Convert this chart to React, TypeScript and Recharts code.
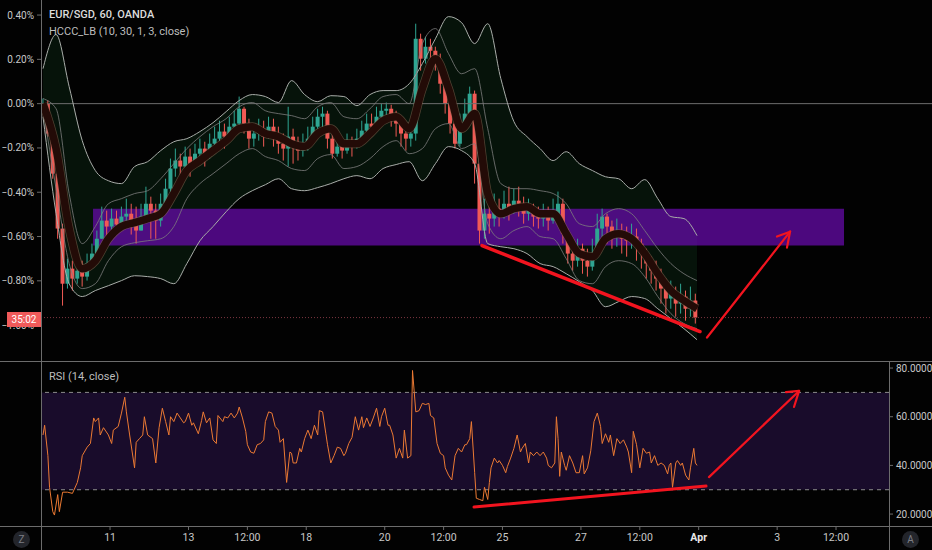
import React from 'react';
import {
  ComposedChart, Bar, Line, Area, XAxis, YAxis, ReferenceLine, ReferenceArea,
} from 'recharts';

// hours are counted in trading hours from the first bar (weekends skipped)
const CANDLE_STEP = 3;
const BAND_STEP = 8;
const FIRST_OPEN = -0.014;

const candleClose = [
  0.000, -0.135, -0.316, -0.564, -0.813, -0.745, -0.790, -0.754, -0.781, -0.722,
  -0.677, -0.610, -0.528, -0.555, -0.519, -0.546, -0.510, -0.497, -0.528, -0.573,
  -0.510, -0.452, -0.483, -0.528, -0.452, -0.384, -0.293, -0.257, -0.284, -0.239,
  -0.271, -0.226, -0.203, -0.239, -0.181, -0.158, -0.126, -0.149, -0.104, -0.090,
  -0.023, -0.090, -0.158, -0.135, -0.113, -0.149, -0.104, -0.135, -0.181, -0.203,
  -0.149, -0.181, -0.212, -0.181, -0.158, -0.104, -0.059, -0.045, -0.158, -0.226,
  -0.194, -0.212, -0.181, -0.194, -0.158, -0.122, -0.090, -0.104, -0.059, -0.032,
  -0.023, -0.068, -0.090, -0.135, -0.158, -0.135, 0.293, 0.203, 0.257, 0.239,
  0.194, 0.090, 0.000, -0.090, -0.181, -0.090, -0.045, 0.045, -0.271, -0.573,
  -0.497, -0.519, -0.474, -0.497, -0.452, -0.474, -0.438, -0.452, -0.497, -0.483,
  -0.510, -0.519, -0.497, -0.528, -0.497, -0.452, -0.587, -0.677, -0.709, -0.655,
  -0.709, -0.736, -0.677, -0.564, -0.510, -0.555, -0.600, -0.573, -0.610, -0.619,
  -0.600, -0.632, -0.677, -0.722, -0.754, -0.790, -0.835, -0.880, -0.858, -0.903,
  -0.871, -0.926, -0.889, -0.966,
];

const candleHigh = [
  0.023, 0.014, -0.113, -0.293, -0.542, -0.700, -0.709, -0.722, -0.709, -0.677,
  -0.632, -0.573, -0.465, -0.483, -0.474, -0.483, -0.465, -0.429, -0.452, -0.465,
  -0.452, -0.375, -0.420, -0.452, -0.406, -0.339, -0.248, -0.203, -0.226, -0.194,
  -0.203, -0.181, -0.158, -0.172, -0.135, -0.104, -0.077, -0.090, -0.059, -0.032,
  0.032, -0.014, -0.068, -0.090, -0.068, -0.077, -0.059, -0.068, -0.104, -0.135,
  -0.014, -0.113, -0.149, -0.135, -0.104, -0.059, -0.023, -0.014, -0.032, -0.135,
  -0.158, -0.158, -0.135, -0.149, -0.113, -0.077, -0.045, -0.045, -0.014, 0.000,
  0.005, -0.005, -0.032, -0.059, -0.090, -0.090, 0.361, 0.316, 0.302, 0.293,
  0.257, 0.226, 0.113, 0.023, -0.068, -0.045, 0.023, 0.077, 0.059, -0.248,
  -0.429, -0.452, -0.406, -0.429, -0.393, -0.375, -0.384, -0.375, -0.420, -0.429,
  -0.452, -0.465, -0.452, -0.465, -0.429, -0.397, -0.429, -0.564, -0.632, -0.610,
  -0.632, -0.655, -0.610, -0.497, -0.474, -0.497, -0.528, -0.519, -0.542, -0.555,
  -0.542, -0.564, -0.610, -0.655, -0.691, -0.709, -0.745, -0.790, -0.799, -0.826,
  -0.813, -0.844, -0.826, -0.858,
];

const candleLow = [
  -0.032, -0.149, -0.339, -0.610, -0.912, -0.835, -0.844, -0.813, -0.826, -0.799,
  -0.736, -0.691, -0.610, -0.600, -0.573, -0.587, -0.564, -0.555, -0.591, -0.632,
  -0.564, -0.528, -0.610, -0.610, -0.555, -0.452, -0.406, -0.330, -0.339, -0.316,
  -0.330, -0.284, -0.271, -0.284, -0.248, -0.212, -0.194, -0.203, -0.158, -0.149,
  -0.104, -0.135, -0.203, -0.194, -0.167, -0.194, -0.158, -0.194, -0.226, -0.257,
  -0.284, -0.271, -0.257, -0.239, -0.212, -0.158, -0.113, -0.113, -0.203, -0.248,
  -0.239, -0.248, -0.226, -0.239, -0.203, -0.181, -0.149, -0.149, -0.113, -0.090,
  -0.068, -0.104, -0.149, -0.194, -0.212, -0.194, -0.167, 0.149, 0.181, 0.194,
  0.149, 0.045, -0.045, -0.135, -0.203, -0.194, -0.090, -0.059, -0.361, -0.632,
  -0.610, -0.587, -0.555, -0.555, -0.519, -0.528, -0.497, -0.510, -0.542, -0.528,
  -0.555, -0.564, -0.555, -0.573, -0.542, -0.510, -0.632, -0.722, -0.754, -0.736,
  -0.768, -0.781, -0.754, -0.691, -0.610, -0.632, -0.655, -0.646, -0.677, -0.691,
  -0.655, -0.709, -0.745, -0.790, -0.813, -0.844, -0.903, -0.948, -0.926, -0.962,
  -0.948, -0.980, -0.962, -0.993,
];

// HCCC_LB bands, one value every BAND_STEP hours
const outerUpper = [
  0.158, 0.312, 0.077, -0.167, -0.302, -0.348, -0.361, -0.284, -0.262, -0.212,
  -0.172, -0.158, -0.126, -0.086, -0.036, 0.014, 0.041, 0.032, 0.005, 0.104,
  0.041, 0.009, 0.036, 0.032, -0.009, 0.041, 0.059, 0.059, 0.090, 0.181,
  0.293, 0.393, 0.366, 0.271, 0.361, 0.113, -0.081, -0.149, -0.203, -0.257,
  -0.217, -0.271, -0.302, -0.330, -0.339, -0.384, -0.343, -0.429, -0.510, -0.519,
  -0.596,
];
const outerLower = [
  -0.059, -0.497, -0.813, -0.871, -0.844, -0.822, -0.799, -0.777, -0.781, -0.790,
  -0.813, -0.722, -0.619, -0.555, -0.488, -0.429, -0.393, -0.366, -0.339, -0.384,
  -0.393, -0.379, -0.361, -0.339, -0.325, -0.339, -0.293, -0.275, -0.262, -0.348,
  -0.271, -0.194, -0.212, -0.271, -0.632, -0.646, -0.655, -0.677, -0.722, -0.736,
  -0.768, -0.804, -0.844, -0.917, -0.894, -0.871, -0.880, -0.926, -0.971, -1.016,
  -1.066,
];
const innerUpper = [
  0.023, -0.023, -0.406, -0.632, -0.555, -0.452, -0.429, -0.406, -0.393, -0.339,
  -0.271, -0.203, -0.149, -0.104, -0.068, -0.014, 0.005, -0.032, -0.045, -0.054,
  -0.068, -0.014, 0.005, -0.059, -0.068, -0.023, 0.032, 0.041, 0.000, 0.271,
  0.339, 0.226, 0.135, 0.158, -0.113, -0.361, -0.384, -0.384, -0.393, -0.406,
  -0.452, -0.542, -0.555, -0.497, -0.474, -0.497, -0.573, -0.655, -0.722, -0.768,
  -0.799,
];
const innerLower = [
  -0.023, -0.384, -0.722, -0.835, -0.813, -0.709, -0.646, -0.628, -0.619, -0.610,
  -0.555, -0.429, -0.361, -0.316, -0.271, -0.226, -0.203, -0.239, -0.257, -0.293,
  -0.302, -0.248, -0.230, -0.293, -0.284, -0.248, -0.194, -0.167, -0.226, -0.203,
  -0.113, -0.090, -0.203, -0.181, -0.542, -0.610, -0.573, -0.555, -0.600, -0.610,
  -0.700, -0.799, -0.813, -0.736, -0.709, -0.722, -0.781, -0.871, -0.948, -0.993,
  -1.016,
];
const channelMid = [
  0.000, -0.203, -0.564, -0.745, -0.709, -0.610, -0.555, -0.537, -0.519, -0.497,
  -0.406, -0.302, -0.257, -0.212, -0.167, -0.113, -0.104, -0.135, -0.149, -0.181,
  -0.194, -0.135, -0.113, -0.181, -0.181, -0.135, -0.077, -0.059, -0.113, 0.068,
  0.203, 0.068, -0.113, -0.045, -0.406, -0.497, -0.474, -0.465, -0.497, -0.497,
  -0.587, -0.677, -0.691, -0.610, -0.587, -0.610, -0.677, -0.768, -0.844, -0.889,
  -0.926,
];

const rsiHours = [
  0, 1, 3, 4, 6, 7, 9, 10, 12, 15,
  18, 21, 23, 24, 27, 29, 31, 32, 34, 35,
  37, 40, 42, 43, 46, 48, 50, 51, 53, 56,
  57, 59, 61, 62, 64, 67, 69, 71, 73, 75,
  77, 78, 80, 82, 84, 86, 87, 89, 91, 92,
  95, 97, 98, 100, 102, 104, 106, 107, 110, 111,
  113, 115, 117, 119, 120, 122, 124, 125, 127, 129,
  131, 133, 135, 136, 138, 140, 142, 144, 145, 147,
  149, 151, 152, 153, 155, 157, 158, 160, 162, 164,
  166, 168, 169, 171, 173, 174, 176, 178, 180, 182,
  184, 185, 187, 189, 191, 193, 195, 196, 198, 200,
  202, 204, 206, 207, 209, 211, 212, 214, 216, 218,
  220, 221, 223, 225, 226, 228, 230, 232, 234, 236,
  237, 239, 241, 243, 245, 246, 248, 250, 252, 254,
  256, 258, 259, 261, 262, 264, 265, 267, 269, 270,
  272, 273, 274, 276, 278, 279, 281, 283, 284, 286,
  288, 290, 292, 293, 295, 297, 298, 300, 302, 304,
  306, 308, 309, 311, 313, 314, 315, 316, 317, 319,
  320, 322, 324, 326, 328, 330, 331, 333, 335, 337,
  339, 341, 342, 344, 346, 347, 349, 351, 353, 355,
  357, 358, 360, 361, 363, 365, 367, 369, 371, 372,
  374, 376, 378, 380, 382, 383, 384, 385, 387, 388,
  390, 391, 393, 395, 396, 398, 399, 400,
];
const rsiValues = [
  52.5, 56.5, 44, 31, 21, 19.6, 28, 21, 29, 29,
  28.5, 33, 39, 44, 47.5, 49, 59.5, 58, 59.5, 52.5,
  55.5, 52.5, 49, 54.5, 56, 61.5, 68, 62, 52.5, 39,
  49.5, 51, 52.5, 60, 52.5, 51, 41, 55.5, 63.5, 58,
  52.5, 60, 58, 61.5, 59.5, 57.5, 58, 61.5, 56.5, 57.5,
  53, 58.5, 62, 57.5, 59.5, 50.5, 49, 60.5, 58, 60,
  59.5, 61.5, 59.5, 61.5, 64, 59.5, 54, 48.5, 45.5, 45,
  48.5, 49, 50.5, 58, 62, 61.5, 56, 54.5, 49.5, 51,
  33, 45.5, 45, 41, 41, 47, 45.5, 51, 54.5, 51,
  56.5, 52.5, 62.5, 62, 53, 48.5, 41, 44, 47.5, 47,
  44, 45, 49, 51.5, 60, 54.5, 60, 55.5, 59.5, 56,
  59.5, 63.5, 56, 60, 63.5, 56.5, 56.5, 52.5, 43, 47,
  43, 54.5, 43, 44, 79, 62, 62.5, 65.5, 65, 65.5,
  60.5, 59.5, 49, 45, 44, 39, 36, 34, 44, 47,
  45.5, 48.5, 48.5, 51, 58, 37, 26.5, 26, 25.5, 31,
  26, 33, 39, 43, 41, 42, 40, 37, 39.5, 43,
  47, 52.5, 45.5, 47, 49, 41, 45.5, 44, 45.5, 44,
  45.5, 43, 40, 39, 41, 60, 51, 35.5, 45.5, 40,
  38, 44, 41, 37, 37, 44, 36.5, 39, 46, 58,
  61.5, 56, 49, 53, 49.5, 52.5, 44, 51, 49, 50.5,
  47.5, 45.5, 37, 54, 48.5, 39, 47, 45, 45.5, 41,
  44, 40, 41, 40, 36.5, 40, 41, 31, 41, 42,
  40, 41, 36, 34, 39, 47, 41, 40,
];

const priceTicks = [0.4, 0.2, 0, -0.2, -0.4, -0.6, -0.8, -1.0];
const rsiTicks = [20, 40, 60, 80];
const tickHours = [41, 89, 125, 161, 209, 245, 281, 329, 365, 401, 449, 485];
const tickLabels = ['11', '13', '12:00', '18', '20', '12:00', '25', '27', '12:00', 'Apr', '3', '12:00'];

const LAST_PRICE = -0.966;
// drawn zone and hand-drawn trend lines / arrows, in (hour, value)
const ZONE = { x1: 30.6, x2: 489.9, y1: -0.641, y2: -0.474 };
const priceMarks = [
  [[268.5, -0.641], [401.8, -1.029]],
  [[406.1, -1.056], [456.9, -0.578]],
  [[456.9, -0.578], [448.9, -0.600]],
  [[456.9, -0.578], [455.0, -0.650]],
];
const rsiMarks = [
  [[263.6, 22.9], [405.5, 31.5]],
  [[407.3, 35.2], [462.4, 70.6]],
  [[462.4, 70.6], [454.4, 70.1]],
  [[462.4, 70.6], [459.3, 64.0]],
];

const X_MIN = -1.22;
const TOP_X_MAX = 543.7;
const RSI_X_MAX = 517.4;

const UP = '#2fa592';
const DOWN = '#f05a55';
const MARK = '#f2141f';
const TEXT = '#c8c8c8';
const GRID = '#6c6c6c';
const FONT = 'Roboto, "Noto Sans", sans-serif';

const candleRows = candleClose.map((c, i) => {
  const o = i === 0 ? FIRST_OPEN : candleClose[i - 1];
  return {
    t: i * CANDLE_STEP,
    open: o,
    close: c,
    high: Math.max(candleHigh[i], o, c),
    low: Math.min(candleLow[i], o, c),
  };
});

const bandRows = outerUpper.map((v, k) => ({
  t: k * BAND_STEP,
  up: v,
  lo: outerLower[k],
  iu: innerUpper[k],
  il: innerLower[k],
  mid: channelMid[k],
}));

const rsiRows = rsiHours.map((t, i) => ({ t, rsi: rsiValues[i] }));

const Candle = (props: any) => {
  const { x, y, width, height, payload } = props;
  if (!payload) return null;
  const top = Math.min(y, y + height);
  const h = Math.abs(height);
  const span = payload.high - payload.low || 1;
  const toPx = (v: number) => top + ((payload.high - v) / span) * h;
  const color = payload.close >= payload.open ? UP : DOWN;
  const cx = x + width / 2;
  const b1 = toPx(Math.max(payload.open, payload.close));
  const b2 = toPx(Math.min(payload.open, payload.close));
  return (
    <g>
      <line x1={cx} x2={cx} y1={top} y2={top + h} stroke={color} strokeWidth={1} />
      <rect x={cx - 2} y={b1} width={4} height={Math.max(1, b2 - b1)} fill={color} />
    </g>
  );
};

const TimeTick = (props: any) => {
  const { x, y, payload } = props;
  const label = tickLabels[tickHours.indexOf(payload.value)];
  return (
    <text x={x} y={y + 9} textAnchor="middle" fill={label === 'Apr' ? '#e8e8e8' : TEXT}
      fontSize={10.5} fontFamily={FONT} fontWeight={label === 'Apr' ? 700 : 400}>
      {label}
    </text>
  );
};

const fmtPct = (v: number) => (v < 0 ? '\u2212' : '') + Math.abs(v).toFixed(2) + '%';

const line = (style: React.CSSProperties): React.CSSProperties => ({ position: 'absolute', background: GRID, ...style });

const Badge = ({ left, letter }: { left: number; letter: string }) => (
  <div style={{
    position: 'absolute', left, top: 531, width: 17, height: 17, borderRadius: 9,
    background: '#23252b', color: '#7d7f86', fontSize: 10, lineHeight: '17px', textAlign: 'center',
  }}>{letter}</div>
);

export default function App() {
  return (
    <div style={{ position: 'absolute', left: 0, top: 0, width: 932, height: 550, background: '#020202', overflow: 'hidden', fontFamily: FONT }}>
      <div style={{ position: 'absolute', left: 0, top: 0 }}>
        <ComposedChart width={932} height={361} data={candleRows} margin={{ top: 0, right: 0, bottom: 0, left: 0 }}>
          <XAxis type="number" dataKey="t" domain={[X_MIN, TOP_X_MAX]} hide allowDataOverflow />
          <YAxis orientation="left" width={41} domain={[-1.162, 0.468]} ticks={priceTicks} allowDataOverflow
            axisLine={false} tickSize={4} tickMargin={3} tickLine={{ stroke: GRID }}
            tick={{ fill: TEXT, fontSize: 10, fontFamily: FONT }} tickFormatter={fmtPct} interval={0} />
          <Area data={bandRows} type="monotone" dataKey={(d: any) => [d.lo, d.up]} fill="#06130a" fillOpacity={1}
            stroke="none" isAnimationActive={false} />
          <ReferenceLine y={0} stroke="#6e6e6e" strokeWidth={1} />
          <ReferenceLine y={LAST_PRICE} stroke="#7c3640" strokeDasharray="1 2" />
          <Line data={bandRows} type="monotone" dataKey="up" stroke="#a9ada9" strokeWidth={1} dot={false} isAnimationActive={false} />
          <Line data={bandRows} type="monotone" dataKey="lo" stroke="#a9ada9" strokeWidth={1} dot={false} isAnimationActive={false} />
          <Line data={bandRows} type="monotone" dataKey="iu" stroke="#7e7e7e" strokeWidth={0.8} dot={false} isAnimationActive={false} />
          <Line data={bandRows} type="monotone" dataKey="il" stroke="#7e7e7e" strokeWidth={0.8} dot={false} isAnimationActive={false} />
          <Line data={bandRows} type="monotone" dataKey="mid" stroke="#8a6a54" strokeWidth={9} strokeOpacity={0.55} dot={false} isAnimationActive={false} />
          <Line data={bandRows} type="monotone" dataKey="mid" stroke="#230b07" strokeWidth={7.5} dot={false} isAnimationActive={false} />
          <Bar dataKey={(d: any) => [d.low, d.high]} barSize={3} shape={<Candle />} isAnimationActive={false} />
          {priceMarks.map((s, i) => (
            <ReferenceLine key={i} segment={[{ x: s[0][0], y: s[0][1] }, { x: s[1][0], y: s[1][1] }]}
              stroke={MARK} strokeWidth={i === 0 ? 3.5 : 2.2} strokeLinecap="round" />
          ))}
          <ReferenceArea x1={ZONE.x1} x2={ZONE.x2} y1={ZONE.y1} y2={ZONE.y2} fill="#6a0bae" fillOpacity={0.72} stroke="none" />
        </ComposedChart>
      </div>

      <div style={{ position: 'absolute', left: 0, top: 361 }}>
        <ComposedChart width={932} height={189} data={rsiRows} margin={{ top: 0, right: 0, bottom: 0, left: 41 }}>
          <XAxis type="number" dataKey="t" domain={[X_MIN, RSI_X_MAX]} ticks={tickHours} interval={0} allowDataOverflow
            height={24} axisLine={false} tickSize={4} tickMargin={2} tickLine={{ stroke: GRID }} tick={<TimeTick />} />
          <YAxis orientation="right" width={43} domain={[15.1, 82.9]} ticks={rsiTicks} allowDataOverflow interval={0}
            axisLine={false} tickSize={4} tickMargin={3} tickLine={{ stroke: GRID }}
            tick={{ fill: TEXT, fontSize: 10, fontFamily: FONT }} tickFormatter={(v: number) => v.toFixed(4)} />
          <ReferenceArea y1={30} y2={70} fill="#190c2b" fillOpacity={1} stroke="none" />
          <ReferenceLine y={70} stroke="#8c8c8c" strokeDasharray="4 4" />
          <ReferenceLine y={30} stroke="#8c8c8c" strokeDasharray="4 4" />
          <Line type="linear" dataKey="rsi" stroke="#ec7a33" strokeWidth={1} dot={false} isAnimationActive={false} />
          {rsiMarks.map((s, i) => (
            <ReferenceLine key={i} segment={[{ x: s[0][0], y: s[0][1] }, { x: s[1][0], y: s[1][1] }]}
              stroke={MARK} strokeWidth={i === 0 ? 3 : 2.2} strokeLinecap="round" />
          ))}
        </ComposedChart>
      </div>

      <div style={line({ left: 40.5, top: 0, width: 1, height: 550 })} />
      <div style={line({ left: 0, top: 360.5, width: 932, height: 1 })} />
      <div style={line({ left: 0, top: 525.5, width: 932, height: 1 })} />
      <div style={line({ left: 888.5, top: 361, width: 1, height: 189 })} />

      <div style={{ position: 'absolute', left: 49, top: 8, color: '#dcdcdc', fontSize: 11, fontWeight: 500 }}>EUR/SGD, 60, OANDA</div>
      <div style={{ position: 'absolute', left: 49, top: 25, color: '#bdbdbd', fontSize: 11 }}>HCCC_LB (10, 30, 1, 3, close)</div>
      <div style={{ position: 'absolute', left: 49, top: 370, color: '#bdbdbd', fontSize: 11 }}>RSI (14, close)</div>

      <div style={{
        position: 'absolute', left: 7, top: 312, width: 34, height: 15, background: '#f05a5a',
        color: '#ffffff', fontSize: 10, lineHeight: '15px', textAlign: 'center',
      }}>35:02</div>

      <Badge left={13} letter="Z" />
      <Badge left={902} letter="A" />
    </div>
  );
}
